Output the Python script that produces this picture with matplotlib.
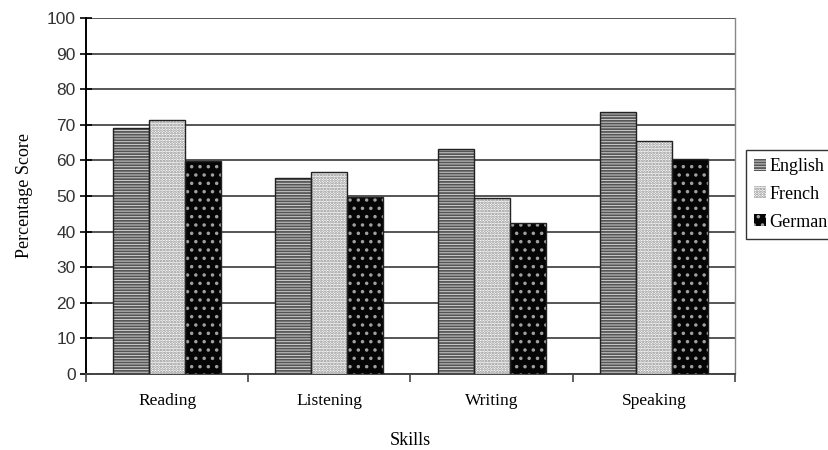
import numpy as np
import matplotlib
matplotlib.use('Agg')
from matplotlib import pyplot as plt

# Scores per skill and language
skills = ['Reading', 'Listening', 'Writing', 'Speaking']
english = [69.2, 55.0, 63.1, 73.7]
french = [71.3, 56.6, 49.4, 65.5]
german = [59.8, 49.6, 42.5, 60.4]
y_ticks = [0, 10, 20, 30, 40, 50, 60, 70, 80, 90, 100]

serif = 'Liberation Serif'
plt.rcParams['hatch.linewidth'] = 1.3

fig = plt.figure(figsize=(8.29, 4.5), dpi=100)
ax = fig.add_axes([0.1037, 0.169, 0.7829, 0.791])

x = np.arange(len(skills))
w = 0.222

# Bar styles: (name, values, face, hatch, hatch colour, offset)
series = [
    ('English', english, '#d0d0d0', '------', '#555555', -w),
    ('French', french, '#ffffff', '......', '#8a8a8a', 0.0),
    ('German', german, '#050505', '..', '#a0a0a0', w),
]
handles = []
for name, vals, face, hatch, hcol, off in series:
    # hatched fill, edge colour drives hatch colour
    ax.bar(x + off, vals, w, color=face, hatch=hatch, edgecolor=hcol, linewidth=0, zorder=3)
    # outline drawn separately so it stays dark
    ax.bar(x + off, vals, w, fill=False, edgecolor='#222222', linewidth=1.0, zorder=4)
    h = plt.Rectangle((0, 0), 1, 1, facecolor=face, hatch=hatch, edgecolor=hcol, linewidth=0)
    handles.append(h)

ax.set_xlim(-0.5, len(skills) - 0.5)
ax.set_ylim(0, 100)
ax.set_yticks(y_ticks)
ax.set_yticklabels([str(v) for v in y_ticks], family='Liberation Sans', fontsize=12.5, color='#333333')
ax.yaxis.grid(True, color='#555555', linewidth=1.4, zorder=0)
ax.set_axisbelow(True)

ax.set_xticks(x)
ax.set_xticklabels(skills, family=serif, fontsize=12.5)
ax.tick_params(axis='x', length=0, pad=14)
ax.set_xticks(np.arange(-0.5, len(skills) + 0.5, 1.0), minor=True)
ax.tick_params(axis='x', which='minor', length=6, width=1.2, direction='out', color='#444444')
ax.tick_params(axis='y', length=9, width=1.2, direction='inout', pad=3)

ax.spines['top'].set_visible(False)
ax.spines['right'].set_color('#888888')
ax.spines['right'].set_linewidth(1.0)
ax.spines['left'].set_linewidth(1.4)
ax.spines['bottom'].set_linewidth(1.4)
ax.spines['bottom'].set_color('#444444')

ax.set_ylabel('Percentage Score', family=serif, fontsize=13, labelpad=10)
ax.set_xlabel('Skills', family=serif, fontsize=13, labelpad=16)

leg = fig.legend(handles, ['English', 'French', 'German'], loc='upper left',
                 bbox_to_anchor=(0.9, 0.667), borderaxespad=0.0, prop={'family': serif, 'size': 13},
                 frameon=True, fancybox=False, edgecolor='#000000', handlelength=0.65,
                 handleheight=0.65, handletextpad=0.2, labelspacing=0.6, borderpad=0.45)
leg.get_frame().set_linewidth(1.0)

fig.savefig('out.png', dpi=100)
